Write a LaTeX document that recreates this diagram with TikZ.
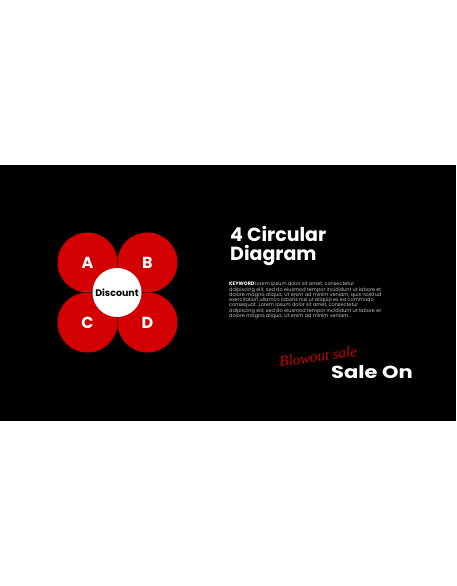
\documentclass[tikz,border=0pt]{standalone}
\usepackage{fontspec}
\setmainfont{Poppins}
\newfontfamily\blowfont{Liberation Serif}
\definecolor{petal}{HTML}{D20000}
\definecolor{bodygray}{HTML}{C4C4C4}
\begin{document}
\begin{tikzpicture}[x=1pt,y=-1pt,
  petalc/.style={circle,fill=petal,draw=none,minimum size=60pt,inner sep=0pt},
  letter/.style={text=white,font=\fontsize{16}{16}\selectfont\bfseries},
  hubc/.style={circle,fill=white,draw=none,minimum size=49pt,inner sep=0pt,font=\fontsize{9.5}{10}\selectfont\bfseries,text=black},
  titletxt/.style={anchor=base west,text=white,inner sep=0pt,font=\fontsize{19}{19}\selectfont\bfseries},
  bodytxt/.style={anchor=north west,inner sep=0pt,align=left,text=bodygray,font=\fontsize{4.95}{5.25}\selectfont}
]
\useasboundingbox (0,0) rectangle (456,586);
\fill[white] (0,0) rectangle (456,586);
\fill[black] (0,165) rectangle (456,421);
% petals
\node[petalc] (A) at (87.5,262.5) {};
\node[petalc] (B) at (147.5,262.5) {};
\node[petalc] (C) at (87.5,322.5) {};
\node[petalc] (D) at (147.5,322.5) {};
\node[letter] (la) at (A) {A};
\node[letter] (lb) at (B) {B};
\node[letter] (lc) at (C) {C};
\node[letter] (ld) at (D) {D};
\node[hubc] (hub) at (117,292.5) {Discount};
% title
\node[titletxt] (t1) at (230,241.7) {4 Circular};
\node[titletxt] (t2) at (230,260.7) {Diagram};
% body
\node[bodytxt] (body) at (229,281.8) {{\color{white}\bfseries KEYWORD}Lorem ipsum dolor sit amet, consectetur\\
adipiscing elit, sed do eiusmod tempor incididunt ut labore et\\
dolore magna aliqua. Ut enim ad minim veniam, quis nostrud\\
exercitation ullamco laboris nisi ut aliquip ex ea commodo\\
consequat. Lorem ipsum dolor sit amet, consectetur\\
adipiscing elit, sed do eiusmod tempor incididunt ut labore et\\
dolore magna aliqua. Ut enim ad minim veniam.};
% sale
\node[anchor=base west,inner sep=0pt,text=petal,rotate=8,font=\blowfont\itshape\fontsize{15}{15}\selectfont] (blow) at (280,367) {Blowout sale};
\node[anchor=base west,inner sep=0pt,text=white,xscale=1.2,font=\fontsize{17.5}{17.5}\selectfont\bfseries] (sale) at (331,378.3) {Sale On};
\end{tikzpicture}
\end{document}
